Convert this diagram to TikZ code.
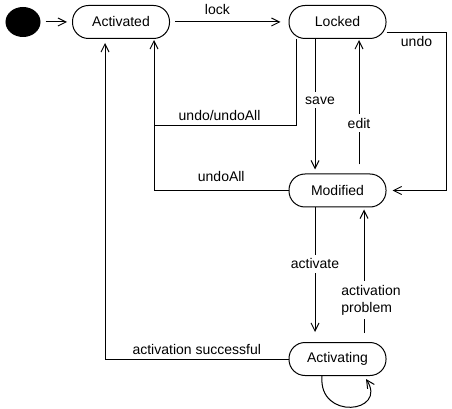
\documentclass[tikz,border=0pt]{standalone}
\usepackage{fontspec}
\setmainfont{Liberation Sans}
\usetikzlibrary{arrows.meta,shapes.geometric,calc}
\tikzset{every picture/.style={line width=0.75pt}}
\tikzset{
  statebox/.style={draw, rounded corners=12pt, minimum width=72.75pt, minimum height=24.75pt, inner sep=1pt, font=\fontsize{10.5}{12.5}\selectfont},
  trans/.style={-{Straight Barb[length=6pt,width=6pt]}},
  lbl/.style={font=\fontsize{10.5}{12.5}\selectfont, inner sep=2pt},
  onlbl/.style={lbl, fill=white, inner sep=3pt},
}

\begin{document}
\begin{tikzpicture}[x=0.75pt,y=0.75pt,yscale=-1,xscale=1]
\useasboundingbox (0,0) rectangle (452,409);

%Shape: Initial state
\node [draw, fill=black, ellipse, minimum width=25.5pt, minimum height=21.75pt, inner sep=0pt] (init) at (23,22) {};
%Shape: States
\node [statebox] (activated) at (121,22) {Activated};
\node [statebox] (locked) at (337.5,22) {Locked};
\node [statebox] (modified) at (337.5,190.5) {Modified};
\node [statebox] (activating) at (337.5,359) {Activating};
\coordinate (junction) at ($(activated.south)+(33,87)$);

%Straight Lines: start
\draw [trans, shorten <=3.75pt, shorten >=3.75pt] (init) -- (activated);
%Straight Lines: lock
\draw [trans, shorten <=3.75pt, shorten >=6pt] (activated.east) -- node [lbl, above=3.25pt, pos=0.4] {lock} (locked.west);
%Straight Lines: undo
\draw [trans, shorten >=4.5pt] ($(locked.east)+(0,11)$) -| node [lbl, below=0.25pt, pos=0.25] {undo} ($(modified.east)+(60,0)$) -- (modified.east);
%Straight Lines: undo/undoAll
\draw [trans, shorten >=0.75pt] ($(locked.south west)+(8,0)$) |- node [lbl, above=2pt, pos=0.77] {undo/undoAll} (junction) -- (activated.south -| junction);
%Straight Lines: undoAll
\draw (modified.west) -| node [lbl, above=4.5pt, pos=0.25] {undoAll} (junction);
%Straight Lines: save
\draw [trans, shorten >=3pt] ($(locked.south)+(-22.5,0)$) -- node [onlbl, pos=0.456, xshift=3.75pt] {save} ($(modified.north)+(-22.5,0)$);
%Straight Lines: edit
\draw [trans, shorten <=6.75pt, shorten >=0.75pt] ($(modified.north)+(21.5,0)$) -- node [onlbl, pos=0.375] {edit} ($(locked.south)+(21.5,0)$);
%Straight Lines: activate
\draw [trans, shorten >=7.5pt] ($(modified.south)+(-22.5,0)$) -- node [onlbl, pos=0.42] {activate} ($(activating.north)+(-22.5,0)$);
%Straight Lines: activation problem
\draw [trans, shorten <=6.75pt, shorten >=1.5pt] ($(activating.north)+(26.5,0)$) -- node [onlbl, pos=0.31, xshift=5.25pt, align=left] {activation\\problem} ($(modified.south)+(26.5,0)$);
%Straight Lines: activation successful
\draw [trans, shorten >=3pt] (activating.west) -| node [lbl, above=1pt, pos=0.25] {activation successful} ($(activated.south)+(-16,0)$);
%Curve Lines: self loop
\draw [trans] ($(activating.south)+(-15.5,0)$) .. controls +(-4,45) and +(22,34) .. ($(activating.south)+(28.5,3)$);

\end{tikzpicture}
\end{document}
